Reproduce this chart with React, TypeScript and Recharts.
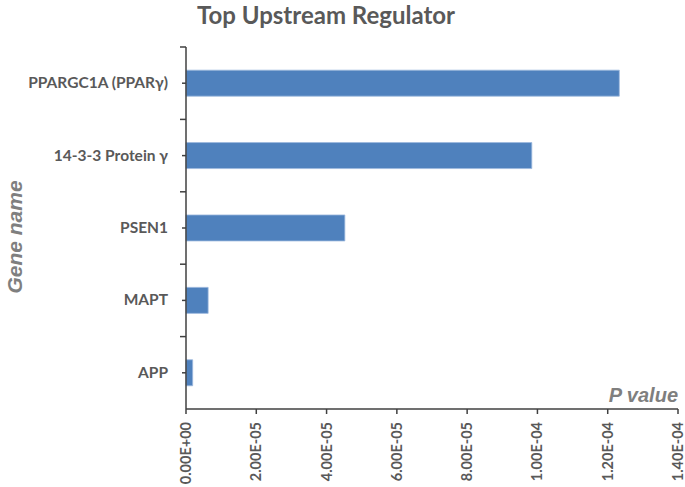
import React from "react";
import { BarChart, Bar, XAxis, YAxis } from "recharts";

const genes = ["PPARGC1A (PPARγ)", "14-3-3 Protein γ", "PSEN1", "MAPT", "APP"];
const pValues = [1.233e-4, 9.84e-5, 4.52e-5, 6.3e-6, 1.9e-6];
const xTicks = [0, 2e-5, 4e-5, 6e-5, 8e-5, 1e-4, 1.2e-4, 1.4e-4];

const data = genes.map((name, i) => ({ name, p: pValues[i] }));

const textColor = "#595959";
const axisColor = "#404040";

function sci(v: number) {
  if (v === 0) return "0.00E+00";
  const [m, e] = v.toExponential(2).split("e");
  const n = parseInt(e, 10);
  const sign = n < 0 ? "-" : "+";
  const abs = Math.abs(n);
  return `${m}E${sign}${abs < 10 ? "0" + abs : abs}`;
}

const XTick = (props: any) => {
  const { x, y, payload } = props;
  return (
    <text
      x={0}
      y={0}
      transform={`translate(${x + 5},${y + 6}) rotate(-90)`}
      textAnchor="end"
      fill={textColor}
      fontSize={14.5}
      fontWeight="bold"
      fontFamily="Lato, 'Open Sans', sans-serif"
    >
      {sci(payload.value)}
    </text>
  );
};

const YTick = (props: any) => {
  const { x, y, payload } = props;
  return (
    <g>
      <line x1={186} x2={180} y1={y - 36.2} y2={y - 36.2} stroke={axisColor} strokeWidth={1.5} />
      <line x1={186} x2={182} y1={y} y2={y} stroke={axisColor} strokeWidth={1.5} />
      <text
        x={x - 10}
        y={y}
        dy={5}
        textAnchor="end"
        fill={textColor}
        fontSize={15.5}
        fontWeight="bold"
        fontFamily="Lato, 'Open Sans', sans-serif"
      >
        {payload.value}
      </text>
    </g>
  );
};

export default function App() {
  return (
    <div style={{ position: "absolute", left: 0, top: 0, width: 685, height: 487, background: "#fff" }}>
      <BarChart
        width={685}
        height={487}
        data={data}
        layout="vertical"
        margin={{ top: 47, right: 7, bottom: 0, left: 0 }}
        barCategoryGap="32%"
      >
        <text
          x={326}
          y={24}
          textAnchor="middle"
          fill={textColor}
          fontSize={24}
          fontWeight="bold"
          fontFamily="Lato, 'Open Sans', sans-serif"
        >
          Top Upstream Regulator
        </text>
        <text
          x={0}
          y={0}
          transform="translate(22,237) rotate(-90)"
          textAnchor="middle"
          fill="#7f7f7f"
          fontSize={21}
          fontWeight="bold"
          fontStyle="italic"
          fontFamily="'Liberation Sans', Arial, sans-serif"
        >
          Gene name
        </text>
        <text
          x={678}
          y={402}
          textAnchor="end"
          fill="#7f7f7f"
          fontSize={20}
          fontWeight="bold"
          fontStyle="italic"
          fontFamily="'Liberation Sans', Arial, sans-serif"
        >
          P value
        </text>
        <XAxis
          type="number"
          domain={[0, 1.4e-4]}
          ticks={xTicks}
          interval={0}
          height={78}
          tick={<XTick />}
          tickLine={{ stroke: axisColor, strokeWidth: 1.5 }}
          tickSize={5}
          axisLine={{ stroke: axisColor, strokeWidth: 1.5 }}
        />
        <YAxis
          type="category"
          dataKey="name"
          width={186}
          tick={<YTick />}
          tickLine={false}
          axisLine={{ stroke: axisColor, strokeWidth: 1.5 }}
          interval={0}
        />
        <Bar dataKey="p" fill="#4F81BD" stroke="#9DB9DE" strokeWidth={0.8} isAnimationActive={false} />
      </BarChart>
    </div>
  );
}
